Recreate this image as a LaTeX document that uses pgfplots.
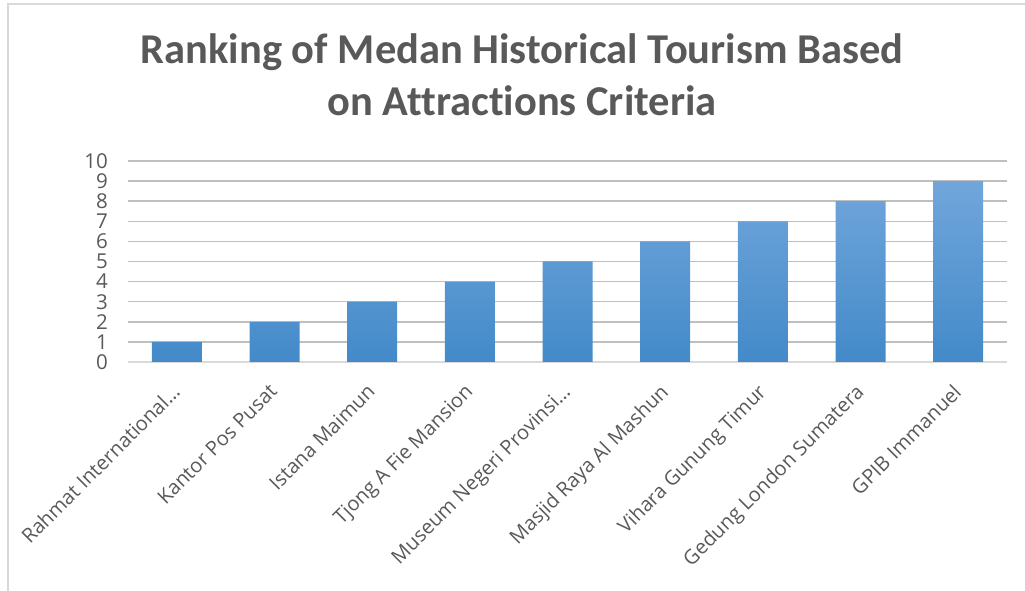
\documentclass[border=0pt]{standalone}
\usepackage{pgfplots}
\pgfplotsset{compat=1.18}
\usepackage{fontspec}
\setmainfont{Open Sans}
\newfontfamily\titlefont[Ligatures=NoCommon]{Carlito}
\definecolor{txt}{HTML}{595959}
\definecolor{grid}{HTML}{D9D9D9}
\definecolor{btop}{HTML}{71A6DB}
\definecolor{bmid}{HTML}{559BDB}
\definecolor{bbot}{HTML}{438AC9}
\begin{document}
\begin{tikzpicture}[x=1pt,y=1pt]
\useasboundingbox (0,0) rectangle (1025,591);
\draw[grid, line width=1.5pt] (8,-5) -- (8,587) -- (1030,587);
\node[anchor=base, text=txt, font=\titlefont\bfseries\fontsize{42.5}{50}\selectfont] at (522,527) {Ranking of Medan Historical Tourism Based};
\node[anchor=base, text=txt, font=\titlefont\bfseries\fontsize{42.5}{50}\selectfont] at (522,475) {on Attractions Criteria};
\begin{axis}[
  at={(128pt,229pt)}, anchor=south west,
  scale only axis, width=879pt, height=201pt,
  xmin=-0.5, xmax=8.5, ymin=0, ymax=10,
  axis line style={draw=none},
  ytick={0,1,...,10},
  xtick={0,...,8},
  xticklabels={Rahmat International…, Kantor Pos Pusat, Istana Maimun, Tjong A Fie Mansion, Museum Negeri Provinsi…, Masjid Raya Al Mashun, Vihara Gunung Timur, Gedung London Sumatera, GPIB Immanuel},
  x tick label style={rotate=45, anchor=north east, font=\fontsize{20}{22}\selectfont, text=txt, inner sep=0pt, xshift=-19pt, yshift=-10pt},
  y tick label style={font=\fontsize{20.5}{22}\selectfont, text=txt, inner sep=0pt, xshift=-20pt},
  /pgf/number format/assume math mode=true,
  major tick length=0pt,
  tick style={draw=none},
  xmajorgrids=false,
  ymajorgrids, major grid style={grid, line width=1.5pt},
  clip=false,
]
\draw[grid, line width=1.5pt] (axis cs:-0.5,0) -- (axis cs:8.5,0);
\addplot[ybar, bar width=50pt, draw=none, top color=btop, middle color=bmid, bottom color=bbot]
  coordinates {(0,1) (1,2) (2,3) (3,4) (4,5) (5,6) (6,7) (7,8) (8,9)};
\end{axis}
\end{tikzpicture}
\end{document}
